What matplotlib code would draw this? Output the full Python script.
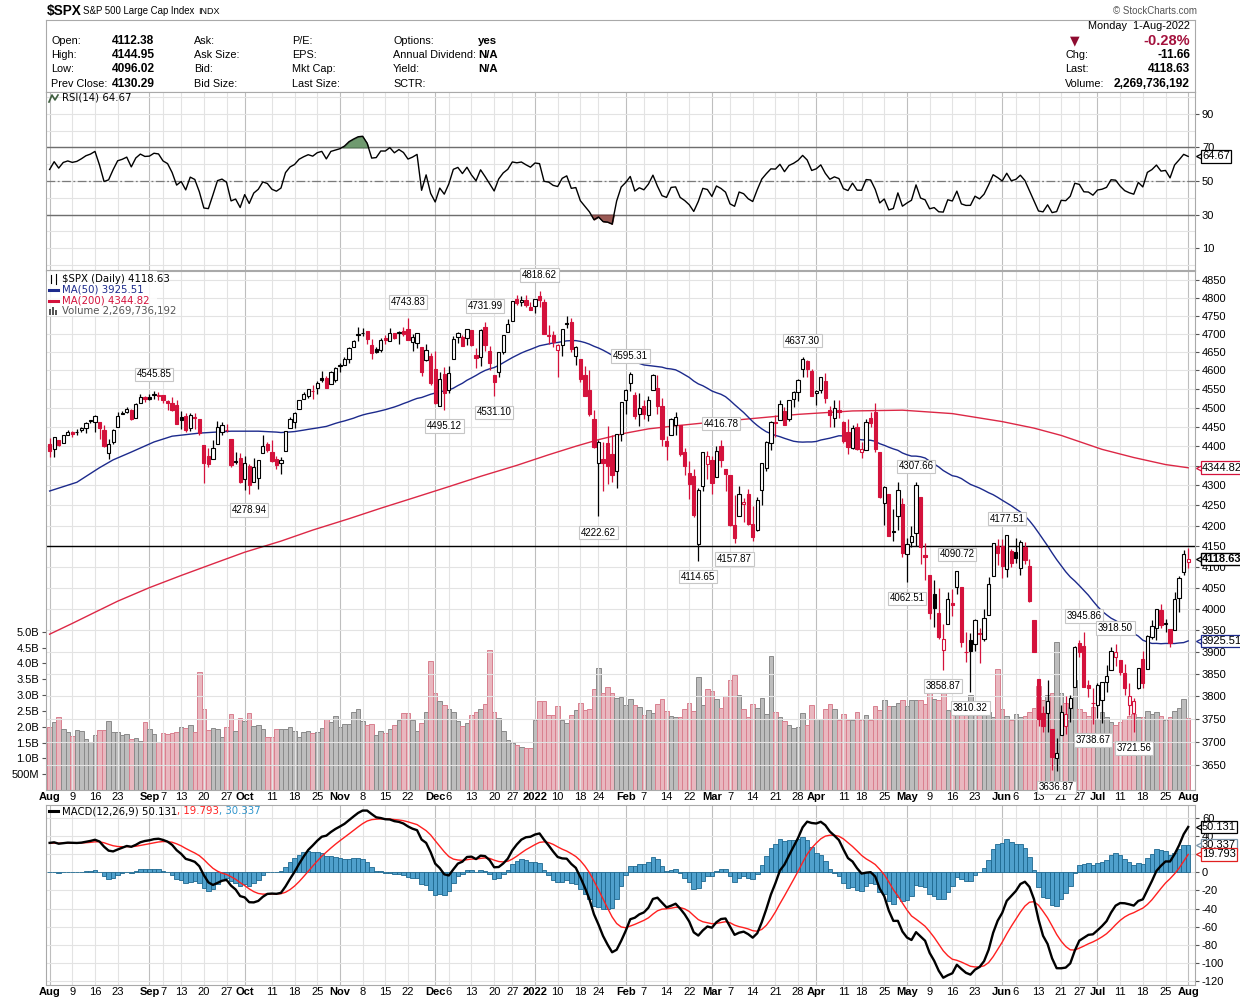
import numpy as np
import pandas as pd
import matplotlib
matplotlib.use('Agg')
import matplotlib.pyplot as plt
from matplotlib.patches import Rectangle
from matplotlib.lines import Line2D
from matplotlib.ticker import NullLocator, NullFormatter

plt.rcParams['font.family'] = ['Liberation Sans', 'DejaVu Sans']

# ---- trading calendar: Aug 2 2021 .. Aug 1 2022 ----
holidays = ['2021-09-06', '2021-11-25', '2021-12-24', '2022-01-17', '2022-02-21',
            '2022-04-15', '2022-05-30', '2022-06-20', '2022-07-04']
dates = pd.bdate_range('2021-08-02', '2022-08-01')
dates = dates[~dates.isin(pd.to_datetime(holidays))]

prev_close0 = 4395.26  # close of Jul 30 2021

opens = [
    # Aug
    4406.9, 4392.7, 4415.9, 4408.9, 4429.1, 4437.8, 4435.8, 4442.2, 4446.1, 4464.8, 4461.7,
    4462.1, 4440.9, 4382.4, 4410.6, 4450.3, 4484.4, 4490.5, 4493.8, 4474.1, 4513.8, 4529.8,
    # Sep
    4528.8, 4534.5, 4532.4, 4535.4, 4518.1, 4513.0, 4506.9, 4474.8, 4479.3, 4447.5, 4477.1,
    4469.7, 4402.9, 4374.5, 4367.4, 4406.8, 4438.0, 4442.1, 4419.5, 4362.4, 4370.7,
    # Oct
    4317.2, 4348.8, 4309.9, 4319.6, 4383.7, 4406.5, 4385.4, 4368.3, 4358.0, 4386.8, 4447.7,
    4463.7, 4497.3, 4524.4, 4532.2, 4546.1, 4553.7, 4578.7, 4580.2, 4562.8, 4572.9,
    # Nov
    4610.6, 4613.3, 4630.7, 4662.9, 4699.3, 4701.5, 4707.3, 4670.3, 4659.4, 4655.2, 4689.3,
    4679.4, 4701.5, 4700.7, 4708.4, 4712.0, 4678.5, 4675.8, 4664.6, 4628.8, 4640.3,
    # Dec
    4602.8, 4504.7, 4589.5, 4548.4, 4632.0, 4690.9, 4691.0, 4687.6, 4710.3, 4642.0, 4636.5,
    4719.1, 4652.5, 4587.9, 4595.0, 4650.4, 4704.0, 4734.0, 4795.5, 4788.6, 4794.2, 4775.2,
    # Jan
    4778.1, 4804.5, 4788.0, 4693.4, 4697.7, 4655.3, 4669.1, 4728.6, 4733.6, 4638.0, 4632.2,
    4588.0, 4547.4, 4471.4, 4356.3, 4366.6, 4408.4, 4380.6, 4336.2, 4431.8,
    # Feb
    4519.6, 4566.4, 4535.4, 4482.8, 4505.8, 4480.0, 4547.0, 4553.2, 4506.3, 4412.6, 4429.3,
    4455.8, 4456.1, 4384.6, 4332.7, 4324.9, 4155.8, 4298.4, 4354.2,
    # Mar
    4364.0, 4322.6, 4401.3, 4342.1, 4327.0, 4202.7, 4223.1, 4252.6, 4279.5, 4202.8, 4188.8,
    4288.1, 4345.1, 4407.3, 4462.4, 4469.1, 4493.1, 4470.0, 4522.7, 4541.1, 4602.9, 4624.2, 4599.0,
    # Apr
    4540.3, 4548.0, 4572.5, 4494.2, 4474.7, 4494.2, 4462.6, 4437.6, 4394.3, 4449.1, 4385.6,
    4390.6, 4472.3, 4489.2, 4385.8, 4255.3, 4278.1, 4186.5, 4222.6, 4253.8,
    # May
    4130.6, 4159.8, 4181.2, 4270.4, 4128.2, 4081.3, 4035.2, 3990.1, 3904.0, 3963.9, 4013.0,
    4052.0, 4052.0, 3899.0, 3927.8, 3919.4, 3942.9, 3929.6, 3984.6, 4077.4, 4151.1,
    # Jun
    4149.8, 4095.4, 4137.6, 4134.7, 4096.5, 4147.1, 4101.7, 3974.4, 3838.2, 3763.5, 3764.1,
    3728.2, 3665.9, 3715.3, 3733.9, 3774.7, 3821.8, 3920.8, 3913.0, 3825.1, 3786.0,
    # Jul
    3781.0, 3792.6, 3832.0, 3858.9, 3888.3, 3880.9, 3852.0, 3779.7, 3764.0, 3818.0, 3883.8,
    3860.7, 3935.3, 3955.5, 3998.4, 3965.7, 3953.2, 3951.4, 4026.1, 4087.3,
    # Aug
    4112.38,
]

highs = [
    4422.2, 4423.8, 4416.2, 4429.8, 4440.8, 4439.4, 4445.2, 4449.4, 4461.8, 4468.4, 4480.3,
    4462.1, 4454.3, 4418.6, 4444.4, 4489.9, 4492.8, 4501.7, 4495.9, 4513.3, 4537.4, 4531.4,
    4537.1, 4545.85, 4541.5, 4535.4, 4521.8, 4529.9, 4520.5, 4492.0, 4485.7, 4486.9, 4485.9,
    4471.5, 4402.9, 4394.9, 4416.8, 4465.4, 4463.1, 4457.3, 4419.5, 4385.6, 4382.5,
    4375.2, 4355.5, 4369.2, 4365.6, 4429.0, 4412.0, 4415.9, 4374.9, 4372.9, 4439.7, 4475.8,
    4488.8, 4520.4, 4540.9, 4551.4, 4559.7, 4572.6, 4598.5, 4584.6, 4597.6, 4608.1,
    4620.3, 4635.2, 4663.5, 4683.0, 4718.5, 4714.9, 4708.5, 4684.9, 4664.6, 4688.5, 4697.4,
    4714.9, 4701.5, 4708.8, 4717.8, 4743.83, 4699.4, 4702.9, 4664.6, 4672.9, 4646.0,
    4652.9, 4595.5, 4608.0, 4612.6, 4694.0, 4705.1, 4695.3, 4713.6, 4710.3, 4660.5, 4712.6,
    4731.99, 4666.7, 4587.9, 4651.1, 4697.7, 4740.7, 4791.5, 4807.0, 4804.1, 4808.9, 4786.8,
    4796.6, 4818.62, 4797.7, 4725.0, 4708.0, 4673.0, 4714.1, 4749.0, 4744.1, 4665.1, 4632.2,
    4611.6, 4602.1, 4494.5, 4417.4, 4411.0, 4453.2, 4428.7, 4432.7, 4516.9,
    4550.5, 4595.31, 4542.9, 4539.7, 4521.9, 4531.3, 4590.0, 4588.9, 4526.3, 4426.2, 4472.8,
    4489.6, 4456.1, 4394.6, 4362.1, 4341.5, 4294.7, 4385.3, 4388.8,
    4375.0, 4401.5, 4416.78, 4342.1, 4327.0, 4276.9, 4299.4, 4268.3, 4291.0, 4247.6, 4271.1,
    4358.0, 4412.7, 4465.4, 4481.8, 4522.0, 4501.1, 4520.6, 4546.0, 4575.6, 4637.30, 4627.8, 4603.1,
    4548.7, 4583.5, 4593.5, 4503.9, 4521.2, 4520.4, 4464.3, 4471.0, 4453.9, 4460.5, 4410.3,
    4471.0, 4488.3, 4512.9, 4385.8, 4299.0, 4278.1, 4240.7, 4308.5, 4269.7,
    4169.8, 4200.1, 4307.66, 4270.4, 4157.7, 4081.3, 4068.8, 4049.1, 3964.8, 4038.9, 4046.5,
    4090.72, 4052.0, 3946.0, 3943.4, 3975.5, 3955.7, 3999.3, 4075.1, 4158.5, 4168.3,
    4166.5, 4177.51, 4142.7, 4168.8, 4164.9, 4160.1, 4119.1, 3974.4, 3838.2, 3778.2, 3837.6,
    3728.2, 3707.7, 3779.7, 3801.8, 3802.6, 3913.7, 3927.7, 3945.86, 3836.5, 3819.0,
    3829.8, 3832.2, 3870.9, 3910.6, 3918.50, 3880.9, 3873.4, 3829.4, 3796.4, 3863.6, 3902.4,
    3939.8, 3974.1, 3999.3, 4012.4, 3975.3, 3953.2, 4039.6, 4078.9, 4140.2,
    4144.95,
]

lows = [
    4373.3, 4373.0, 4400.2, 4408.9, 4429.1, 4424.7, 4430.0, 4436.4, 4435.5, 4460.8, 4437.7,
    4417.8, 4397.6, 4367.7, 4406.8, 4450.3, 4482.7, 4485.7, 4468.9, 4474.1, 4513.8, 4515.8,
    4522.0, 4524.7, 4521.9, 4513.0, 4493.9, 4492.1, 4457.7, 4445.7, 4438.0, 4438.4, 4443.8,
    4427.8, 4305.9, 4348.0, 4367.4, 4406.8, 4430.3, 4436.2, 4346.3, 4355.1, 4306.2,
    4288.5, 4278.94, 4309.9, 4290.5, 4383.7, 4386.2, 4360.6, 4342.1, 4329.9, 4386.8, 4447.7,
    4447.5, 4496.4, 4524.4, 4526.9, 4524.0, 4537.4, 4569.2, 4551.7, 4562.8, 4567.6,
    4595.1, 4613.3, 4621.2, 4662.6, 4681.3, 4694.4, 4670.9, 4630.9, 4648.3, 4650.0, 4672.9,
    4679.4, 4684.4, 4672.8, 4694.2, 4682.2, 4652.7, 4659.9, 4585.4, 4625.3, 4560.0,
    4510.3, 4504.7, 4495.12, 4540.5, 4632.0, 4674.5, 4666.0, 4670.2, 4667.6, 4606.5, 4611.2,
    4651.9, 4600.2, 4531.10, 4583.2, 4645.5, 4704.0, 4734.0, 4780.0, 4778.1, 4775.3, 4765.8,
    4758.2, 4774.3, 4699.4, 4671.3, 4662.7, 4582.2, 4638.3, 4716.6, 4650.3, 4614.8, 4568.7,
    4530.2, 4478.0, 4395.3, 4222.62, 4287.1, 4304.8, 4309.5, 4292.5, 4414.0,
    4483.5, 4544.3, 4470.4, 4451.5, 4471.5, 4465.4, 4547.0, 4484.3, 4401.4, 4364.8, 4429.3,
    4429.7, 4373.8, 4327.2, 4267.1, 4221.5, 4114.65, 4286.8, 4315.1,
    4279.5, 4322.6, 4345.6, 4285.0, 4199.9, 4157.87, 4223.1, 4209.8, 4200.5, 4161.7, 4187.9,
    4252.0, 4335.7, 4390.6, 4424.3, 4469.1, 4455.8, 4465.2, 4501.1, 4517.7, 4581.3, 4581.3, 4530.4,
    4507.6, 4539.2, 4514.2, 4450.0, 4450.3, 4474.6, 4408.4, 4381.3, 4392.7, 4390.8, 4370.3,
    4390.6, 4448.8, 4384.5, 4267.6, 4200.8, 4175.0, 4162.9, 4188.6, 4124.3,
    4062.51, 4147.1, 4148.9, 4106.0, 4067.9, 3975.5, 3958.2, 3928.8, 3858.87, 3963.9, 3984.0,
    4033.9, 3911.9, 3876.6, 3810.32, 3902.6, 3875.1, 3925.0, 3984.6, 4077.4, 4104.9,
    4073.9, 4074.4, 4098.7, 4109.2, 4080.2, 4107.2, 4017.2, 3900.2, 3734.3, 3721.6, 3722.3,
    3639.8, 3636.87, 3715.3, 3717.7, 3743.5, 3821.8, 3889.7, 3820.1, 3799.0, 3738.67,
    3752.1, 3742.1, 3809.4, 3858.9, 3869.3, 3847.2, 3802.4, 3759.1, 3721.56, 3817.2, 3818.6,
    3860.7, 3930.4, 3927.6, 3955.8, 3946.3, 3910.7, 3951.4, 3993.0, 4079.2,
    4096.02,
]

closes = [
    4387.16, 4423.15, 4402.66, 4429.10, 4436.52, 4432.35, 4436.75, 4447.70, 4460.83, 4468.00, 4479.71,
    4448.08, 4400.27, 4405.80, 4441.67, 4479.53, 4486.23, 4496.19, 4470.00, 4509.37, 4528.79, 4522.68,
    4524.09, 4536.95, 4535.43, 4520.03, 4514.07, 4493.28, 4458.58, 4468.73, 4443.05, 4480.70, 4473.75,
    4432.99, 4357.73, 4354.19, 4395.64, 4448.98, 4455.48, 4443.11, 4352.63, 4359.46, 4307.54,
    4357.04, 4300.46, 4345.72, 4363.55, 4399.76, 4391.34, 4361.19, 4350.65, 4363.80, 4438.26, 4471.37,
    4486.46, 4519.63, 4536.19, 4549.78, 4544.90, 4566.48, 4574.79, 4551.68, 4596.42, 4605.38,
    4613.67, 4630.65, 4660.57, 4680.06, 4697.53, 4701.70, 4685.25, 4646.71, 4649.27, 4682.85, 4682.80,
    4700.90, 4688.67, 4704.54, 4697.96, 4682.94, 4690.70, 4701.46, 4594.62, 4655.27, 4567.00,
    4513.04, 4577.10, 4538.43, 4591.67, 4686.75, 4701.21, 4667.45, 4712.02, 4668.97, 4634.09, 4709.85,
    4668.67, 4620.64, 4568.02, 4649.23, 4696.56, 4725.79, 4791.19, 4786.35, 4793.06, 4778.73, 4766.18,
    4796.56, 4793.54, 4700.58, 4696.05, 4677.03, 4670.29, 4713.07, 4726.35, 4659.03, 4662.85, 4577.11,
    4532.76, 4482.73, 4397.94, 4410.13, 4356.45, 4349.93, 4326.51, 4431.85, 4515.55,
    4546.54, 4589.38, 4477.44, 4500.53, 4483.87, 4521.54, 4587.18, 4504.08, 4418.64, 4401.67, 4471.07,
    4475.01, 4380.26, 4348.87, 4304.76, 4225.50, 4288.70, 4384.65, 4373.94,
    4306.26, 4386.54, 4363.49, 4328.87, 4201.09, 4170.70, 4277.88, 4259.52, 4204.31, 4173.11, 4262.45,
    4357.86, 4411.67, 4463.12, 4461.18, 4511.61, 4456.24, 4520.16, 4543.06, 4575.52, 4631.60, 4602.45, 4530.41,
    4545.86, 4582.64, 4525.12, 4481.15, 4500.21, 4488.28, 4412.53, 4397.45, 4446.59, 4392.59, 4391.69,
    4462.21, 4459.45, 4393.66, 4271.78, 4296.12, 4175.20, 4183.96, 4287.50, 4131.93,
    4155.38, 4175.48, 4300.17, 4146.87, 4123.34, 3991.24, 4001.05, 3935.18, 3930.08, 4023.89, 4008.01,
    4088.85, 3923.68, 3900.79, 3901.36, 3973.75, 3941.48, 3978.73, 4057.84, 4158.24, 4132.15,
    4101.23, 4176.82, 4108.54, 4121.43, 4160.68, 4115.77, 4017.82, 3900.86, 3749.63, 3735.48, 3789.99,
    3666.77, 3674.84, 3764.79, 3759.89, 3795.73, 3911.74, 3900.11, 3821.55, 3818.83, 3785.38,
    3825.33, 3831.39, 3845.08, 3902.62, 3899.38, 3854.43, 3818.80, 3801.78, 3790.38, 3863.16, 3830.85,
    3936.69, 3959.90, 3998.95, 3961.63, 3966.84, 3921.05, 4023.61, 4072.43, 4130.29,
    4118.63,
]

# volume in billions of shares
volume_b = [
    1.98, 2.16, 2.32, 1.94, 1.82, 1.72, 1.90, 1.87, 1.61, 1.52, 1.74, 1.90, 1.90, 2.19, 1.82, 1.84,
    1.74, 1.78, 1.61, 1.64, 1.55, 2.16,
    1.94, 1.78, 1.52, 1.81, 1.78, 1.81, 1.84, 2.00, 1.97, 2.06, 1.84, 3.72, 2.57, 1.90, 1.97, 1.94,
    1.67, 2.00, 2.41, 1.87, 2.28,
    2.19, 2.44, 2.03, 2.06, 1.94, 1.67, 1.67, 1.94, 1.94, 1.94, 2.00, 1.87, 1.67, 1.84, 1.87, 1.81,
    1.84, 1.97, 2.25, 2.16, 2.35,
    2.00, 2.09, 2.09, 2.48, 2.57, 2.19, 2.06, 2.09, 1.74, 1.87, 1.81, 1.94, 2.06, 2.22, 2.44, 2.44,
    2.22, 1.85, 2.11, 2.48, 4.08,
    3.05, 2.80, 2.70, 2.57, 2.48, 2.17, 2.01, 2.12, 2.38, 2.48, 2.57, 2.73, 4.43, 2.45, 2.28, 1.85,
    1.59, 1.49, 1.42, 1.36, 1.33, 1.33,
    2.22, 2.82, 2.80, 2.38, 2.38, 2.67, 2.22, 2.13, 2.38, 2.52, 2.74, 2.52, 2.55, 3.20, 3.87, 3.05,
    3.24, 3.05, 2.92, 2.95,
    2.70, 2.86, 2.70, 2.63, 2.38, 2.54, 2.42, 2.71, 2.86, 2.51, 2.35, 2.32, 2.32, 2.57, 2.74, 2.51,
    3.56, 2.70, 3.20,
    3.14, 2.86, 2.60, 2.98, 3.49, 3.62, 3.01, 2.57, 2.31, 2.71, 2.60, 2.92, 2.41, 4.22, 2.48, 2.31,
    2.17, 2.06, 1.97, 1.99, 2.44, 2.06, 2.70,
    2.25, 2.25, 2.57, 2.71, 2.55, 2.22, 2.39, 2.22, 2.22, 2.48, 2.22, 2.36, 2.20, 2.64, 2.54, 2.83,
    2.64, 2.64, 2.75, 2.83,
    2.64, 2.83, 2.85, 2.83, 2.71, 3.08, 2.89, 2.83, 3.15, 2.52, 2.45, 2.62, 2.70, 2.66, 3.00, 2.48,
    2.45, 2.40, 2.48, 2.30, 3.82,
    2.55, 2.35, 2.20, 2.40, 2.30, 2.35, 2.45, 2.60, 3.30, 2.85, 3.00, 3.08, 4.69, 3.05, 2.75, 2.62,
    3.47, 2.55, 2.45, 2.35, 2.62,
    2.25, 2.45, 2.30, 2.15, 2.05, 2.15, 2.25, 2.35, 2.40, 2.30, 2.30, 2.50, 2.40, 2.45, 2.35, 2.20,
    2.30, 2.50, 2.60, 2.87,
    2.27,
]

# MA(50) for the first weeks (before 50 closes are on the chart)
ma50_early_idx = [0, 6, 11, 14, 18, 23, 27, 33, 40, 46]
ma50_early_val = [4286, 4308, 4345, 4365, 4385, 4411, 4426, 4434, 4439, 4439]
# MA(200) (trading-day index, value)
ma200_idx = [0, 5, 10, 15, 22, 29, 36, 43, 51, 58, 66, 73, 80, 88, 95, 103, 110, 116, 121, 127,
             132, 138, 143, 154, 165, 177, 188, 199, 210, 217, 223, 232, 239, 246, 251]
ma200_val = [3941, 3966, 3992, 4018, 4050, 4079, 4107, 4135, 4162, 4189, 4217, 4243, 4268, 4297,
             4323, 4351, 4378, 4400, 4417, 4434, 4445, 4453, 4459, 4471, 4483, 4492, 4494, 4485,
             4464, 4447, 4428, 4392, 4371, 4353, 4344.82]

rsi_seed_gain, rsi_seed_loss = 14.0, 10.0
ema12_seed, ema26_seed, signal_seed = 4385.0, 4350.0, 32.0

hline_level = 4150

label_dates = ['2021-09-02', '2021-10-04', '2021-11-22', '2021-12-03', '2021-12-16', '2021-12-20',
               '2022-01-04', '2022-01-24', '2022-02-02', '2022-02-24', '2022-03-03', '2022-03-08',
               '2022-03-29', '2022-05-04', '2022-05-02', '2022-05-17', '2022-05-12', '2022-05-20',
               '2022-06-02', '2022-06-28', '2022-06-17', '2022-06-30', '2022-07-08', '2022-07-14']
label_vals = [4545.85, 4278.94, 4743.83, 4495.12, 4731.99, 4531.10, 4818.62, 4222.62, 4595.31,
              4114.65, 4416.78, 4157.87, 4637.30, 4307.66, 4062.51, 4090.72, 3858.87, 3810.32,
              4177.51, 3945.86, 3636.87, 3738.67, 3918.50, 3721.56]
label_side = ['hi', 'lo', 'hi', 'lo', 'hi', 'lo', 'hi', 'lo', 'hi', 'lo', 'hi', 'lo',
              'hi', 'hi', 'lo', 'hi', 'lo', 'lo', 'hi', 'hi', 'lo', 'lo', 'hi', 'lo']

tick_dates = ['2021-08-02', '2021-08-09', '2021-08-16', '2021-08-23', '2021-09-01', '2021-09-07',
              '2021-09-13', '2021-09-20', '2021-09-27', '2021-10-01', '2021-10-11', '2021-10-18',
              '2021-10-25', '2021-11-01', '2021-11-08', '2021-11-15', '2021-11-22', '2021-12-01',
              '2021-12-06', '2021-12-13', '2021-12-20', '2021-12-27', '2022-01-03', '2022-01-10',
              '2022-01-18', '2022-01-24', '2022-02-01', '2022-02-07', '2022-02-14', '2022-02-22',
              '2022-03-01', '2022-03-07', '2022-03-14', '2022-03-21', '2022-03-28', '2022-04-01',
              '2022-04-11', '2022-04-18', '2022-04-25', '2022-05-02', '2022-05-09', '2022-05-16',
              '2022-05-23', '2022-06-01', '2022-06-06', '2022-06-13', '2022-06-21', '2022-06-27',
              '2022-07-01', '2022-07-11', '2022-07-18', '2022-07-25', '2022-08-01']
tick_labels = ['Aug', '9', '16', '23', 'Sep', '7', '13', '20', '27', 'Oct', '11', '18', '25', 'Nov',
               '8', '15', '22', 'Dec', '6', '13', '20', '27', '2022', '10', '18', '24', 'Feb', '7',
               '14', '22', 'Mar', '7', '14', '21', '28', 'Apr', '11', '18', '25', 'May', '9', '16',
               '23', 'Jun', '6', '13', '21', '27', 'Jul', '11', '18', '25', 'Aug']

# ---------------------------------------------------------------------------
W, H = 1240, 1001
fig = plt.figure(figsize=(W / 100, H / 100), dpi=100)


def box(l, t, r, b):
    return [l / W, 1 - b / H, (r - l) / W, (b - t) / H]


def fx(v):
    return v / W


def fy(v):
    return 1 - v / H


RED = '#D4123C'
GRID = '#E3E3E3'
MGRID = '#BEBEBE'
SPINE = '#A9A9A9'

n = len(closes)
x = np.arange(n)
o = np.array(opens)
h = np.array(highs)
l = np.array(lows)
c = np.array(closes)
prev = np.concatenate([[prev_close0], c[:-1]])
up = c >= prev

tick_idx = [dates.get_loc(pd.Timestamp(d)) for d in tick_dates]
is_month = [not t.isdigit() or t == '2022' for t in tick_labels]

# indicators
rsi = []
ag, al, p = rsi_seed_gain, rsi_seed_loss, prev_close0
for cl in closes:
    ch = cl - p
    ag = (ag * 13 + max(ch, 0)) / 14
    al = (al * 13 + max(-ch, 0)) / 14
    rsi.append(100 - 100 / (1 + ag / al))
    p = cl
rsi = np.array(rsi)

macd, sig = [], []
e12, e26, s = ema12_seed, ema26_seed, signal_seed
for cl in closes:
    e12 += (cl - e12) * 2 / 13
    e26 += (cl - e26) * 2 / 27
    m = e12 - e26
    s += (m - s) * 2 / 10
    macd.append(m)
    sig.append(s)
macd, sig = np.array(macd), np.array(sig)
hist = macd - sig

ma50_calc = pd.Series(closes).rolling(50).mean()
ma50_x = ma50_early_idx + list(range(49, n))
ma50_y = ma50_early_val + list(ma50_calc.iloc[49:])


def base_style(a, labels):
    a.set_xlim(-0.8, 252.5)
    for sp in a.spines.values():
        sp.set_color(SPINE)
        sp.set_linewidth(0.8)
    a.set_xticks(tick_idx)
    if labels:
        a.set_xticklabels(tick_labels)
        for t, m in zip(a.get_xticklabels(), is_month):
            if m:
                t.set_fontweight('bold')
    a.tick_params(axis='x', length=0, labelsize=8, pad=1.5, labelbottom=labels)
    a.tick_params(axis='y', which='both', left=False, labelleft=False, right=True,
                  labelright=True, length=3, color='#555555', labelsize=8, pad=2)
    for t, m in zip(tick_idx, is_month):
        a.axvline(t, color=MGRID if m else GRID, lw=0.8, zorder=0)


# header box
ax_head = fig.add_axes(box(46, 20, 1195, 92))
ax_head.set_xticks([])
ax_head.set_yticks([])
for sp in ax_head.spines.values():
    sp.set_color(SPINE)

fig.text(fx(47), fy(11), '$SPX', weight='bold', size=9.8, va='center')
fig.text(fx(83), fy(11), 'S&P 500 Large Cap Index', size=6.9, va='center')
fig.text(fx(198), fy(11), 'INDX', size=6.5, va='center')
fig.text(fx(1197), fy(11), '© StockCharts.com', size=7, ha='right', va='center', color='#555555')

rows = [41, 55, 69, 84]
cols = [(51, ['Open:', 'High:', 'Low:', 'Prev Close:']),
        (194, ['Ask:', 'Ask Size:', 'Bid:', 'Bid Size:']),
        (292, ['P/E:', 'EPS:', 'Mkt Cap:', 'Last Size:']),
        (393, ['Options:', 'Annual Dividend:', 'Yield:', 'SCTR:'])]
for cx, labs in cols:
    for ry, t in zip(rows, labs):
        fig.text(fx(cx), fy(ry), t, size=7.8, va='center')
for ry, t in zip(rows, ['4112.38', '4144.95', '4096.02', '4130.29']):
    fig.text(fx(112), fy(ry), t, size=8.6, weight='bold', va='center')
for ry, t in zip(rows, ['yes', 'N/A', 'N/A']):
    fig.text(fx(478), fy(ry), t, size=8.2, weight='bold', va='center')

fig.text(fx(1190), fy(26), 'Monday  1-Aug-2022', size=7.8, ha='right', va='center')
fig.text(fx(1075), fy(41), '▼', size=9, ha='center', va='center', color='#8E0B30',
         family='DejaVu Sans')
fig.text(fx(1190), fy(41), '-0.28%', size=10.5, weight='bold', ha='right', va='center',
         color='#A3103C')
for ry, lab, val in zip(rows[1:], ['Chg:', 'Last:', 'Volume:'],
                        ['-11.66', '4118.63', '2,269,736,192']):
    fig.text(fx(1065), fy(ry), lab, size=7.8, va='center')
    fig.text(fx(1190), fy(ry), val, size=8.6, weight='bold', ha='right', va='center')

# ---------------- RSI panel ----------------
ax_rsi = fig.add_axes(box(46, 92, 1195, 270))
base_style(ax_rsi, False)
ax_rsi.set_ylim(-3.1, 103.1)
ax_rsi.set_yticks([10, 30, 50, 70, 90])
for v in range(0, 101, 10):
    ax_rsi.axhline(v, color=GRID, lw=0.8, zorder=0)
ax_rsi.axhline(70, color='#6E6E6E', lw=1, zorder=1)
ax_rsi.axhline(30, color='#6E6E6E', lw=1, zorder=1)
ax_rsi.axhline(50, color='#7A7A7A', lw=0.9, ls=(0, (7, 2, 1.5, 2)), zorder=1)
ax_rsi.fill_between(x, rsi, 70, where=rsi > 70, interpolate=True, color='#6F9A6F',
                    edgecolor='#3F5F3F', lw=0.6, zorder=2)
ax_rsi.fill_between(x, rsi, 30, where=rsi < 30, interpolate=True, color='#9A5A55',
                    edgecolor='#5A2A28', lw=0.6, zorder=2)
ax_rsi.plot(x, rsi, color='black', lw=1.0, zorder=3)

# ---------------- price panel ----------------
ax = fig.add_axes(box(46, 271, 1195, 790))
vax = ax.twinx()
ax.set_zorder(vax.get_zorder() + 1)
ax.patch.set_visible(False)
base_style(ax, True)
ax.set_yscale('log')
ax.set_ylim(3597, 4876)
pt = np.arange(3650, 4851, 50)
# the 4350 label sits under the MA(200) value tag
ax.set_yticks(pt, labels=['' if v == 4350 else str(v) for v in pt])
ax.yaxis.set_minor_locator(NullLocator())
ax.yaxis.set_minor_formatter(NullFormatter())
ax.yaxis.tick_right()
ax.tick_params(axis='y', length=3, color='#555555', labelsize=8, pad=2)
for v in pt:
    ax.axhline(v, color=GRID, lw=0.8, zorder=0)

# volume overlay
vfill = np.where(up, '#BDBDBD', '#E9B7BF')
vedge = np.where(up, '#8A8A8A', '#D9808F')
vax.bar(x, np.array(volume_b) * 1e9, width=1.0, color=vfill, edgecolor=vedge, lw=0.7)
vax.set_ylim(0, 16.4e9)
vt = np.arange(0.5e9, 5.01e9, 0.5e9)
vax.set_yticks(vt, labels=['500M'] + ['%.1fB' % (v / 1e9) for v in vt[1:]])
vax.yaxis.tick_left()
vax.tick_params(axis='y', length=3, color='#555555', labelsize=8, pad=2)
for sp in vax.spines.values():
    sp.set_visible(False)

# moving averages
ax.plot(ma200_idx, ma200_val, color='#DC2846', lw=1.0, zorder=2)
ax.plot(ma50_x, ma50_y, color='#1C2A8C', lw=1.0, zorder=2)
ax.axhline(hline_level, color='black', lw=1.0, zorder=2)

# candles
edge = np.where(up, 'black', RED)
fill = np.where(c < o, edge, 'white')
ax.vlines(x, l, h, colors=edge, lw=0.9, zorder=3)
body = np.maximum(np.abs(c - o), 0.6)
ax.bar(x, body, bottom=np.minimum(o, c), width=0.72, color=fill, edgecolor=edge,
       lw=0.8, zorder=4)

# swing labels
for d, v, sd in zip(label_dates, label_vals, label_side):
    i = dates.get_loc(pd.Timestamp(d))
    dy, va = (8, 'bottom') if sd == 'hi' else (-8, 'top')
    ax.annotate('%.2f' % v, xy=(i, v), xytext=(0, dy), textcoords='offset points',
                ha='center', va=va, fontsize=7, zorder=6,
                bbox=dict(boxstyle='square,pad=0.18', fc='white', ec='#C6C6C6', lw=0.8))


def tag(a, y, text, ec, bold=False):
    tr = a.get_yaxis_transform()
    a.plot([1.004], [y], marker='<', ms=6, mfc='white', mec=ec, mew=0.9,
           transform=tr, clip_on=False, zorder=9)
    a.annotate(text, xy=(1, y), xycoords=tr, xytext=(5, 0), textcoords='offset points',
               ha='left', va='center', fontsize=8, fontweight='bold' if bold else 'normal',
               annotation_clip=False, zorder=10,
               bbox=dict(boxstyle='square,pad=0.12', fc='white', ec=ec, lw=1.0 if bold else 0.9))


tag(ax, 4344.82, '4344.82', '#D4123C')
tag(ax, 4118.63, '4118.63', 'black', bold=True)
tag(ax, 3925.51, '3925.51', '#1C2A8C')
tag(ax_rsi, 64.67, '64.67', 'black')

# ---------------- MACD panel ----------------
ax_macd = fig.add_axes(box(46, 805, 1195, 985))
base_style(ax_macd, True)
ax_macd.set_ylim(-124.4, 74.4)
mt = list(range(-120, 61, 20))
# the 20 label sits under the signal value tag
ax_macd.set_yticks(mt, labels=['' if v == 20 else str(v) for v in mt])
for v in mt:
    ax_macd.axhline(v, color=GRID, lw=0.8, zorder=0)
ax_macd.bar(x, hist, width=1.0, color='#4FA0CC', edgecolor='#1D6890', lw=0.6, zorder=2)
ax_macd.plot(x, sig, color='#FF2020', lw=1.0, zorder=3)
ax_macd.plot(x, macd, color='black', lw=1.7, zorder=4)
tag(ax_macd, 50.131, '50.131', 'black')
tag(ax_macd, 30.337, '30.337', '#7A94A8')
tag(ax_macd, 19.793, '19.793', '#E02020')

# ---------------- legends ----------------
fig.patches.append(Rectangle((fx(47), fy(316)), fx(110), 45 / H, transform=fig.transFigure,
                             fc='white', ec='none', alpha=0.85, zorder=5))
LF = dict(size=7.3, va='center', family='DejaVu Sans', zorder=6)
fig.text(fx(62), fy(279), '$SPX (Daily) 4118.63', color='black', **LF)
fig.text(fx(62), fy(290), 'MA(50) 3925.51', color='#1C2A8C', **LF)
fig.text(fx(62), fy(301), 'MA(200) 4344.82', color='#D4123C', **LF)
fig.text(fx(62), fy(311), 'Volume 2,269,736,192', color='#555555', **LF)
fig.text(fx(62), fy(98), 'RSI(14) 64.67', color='black', **LF)
for yy, col in [(290, '#1C2A8C'), (301, '#D4123C'), (811, 'black')]:
    fig.add_artist(Line2D([fx(49), fx(58)], [fy(yy), fy(yy)], color=col, lw=2.2, zorder=6))
# small icons
for dx, hh in [(49, 6), (52, 8), (55, 5)]:
    fig.patches.append(Rectangle((fx(dx), fy(315)), 2 / W, hh / H, transform=fig.transFigure,
                                 fc='#555555', ec='none', zorder=6))
fig.add_artist(Line2D([fx(51), fx(51)], [fy(283), fy(275)], color='black', lw=0.8, zorder=6))
fig.add_artist(Line2D([fx(56), fx(56)], [fy(284), fy(274)], color='black', lw=0.8, zorder=6))
fig.add_artist(Line2D([fx(49), fx(52), fx(55), fx(58)], [fy(102), fy(95), fy(100), fy(95)],
                      color='#3F5F3F', lw=1.2, zorder=6))

renderer = fig.canvas.get_renderer()
t1 = fig.text(fx(62), fy(811), 'MACD(12,26,9) 50.131', color='black', **LF)
bb = t1.get_window_extent(renderer)
t2 = fig.text(bb.x1 / W, fy(811), ', 19.793', color='#FF2020', **LF)
bb = t2.get_window_extent(renderer)
fig.text(bb.x1 / W, fy(811), ', 30.337', color='#2F95CC', **LF)

fig.savefig('out.png', dpi=100)
